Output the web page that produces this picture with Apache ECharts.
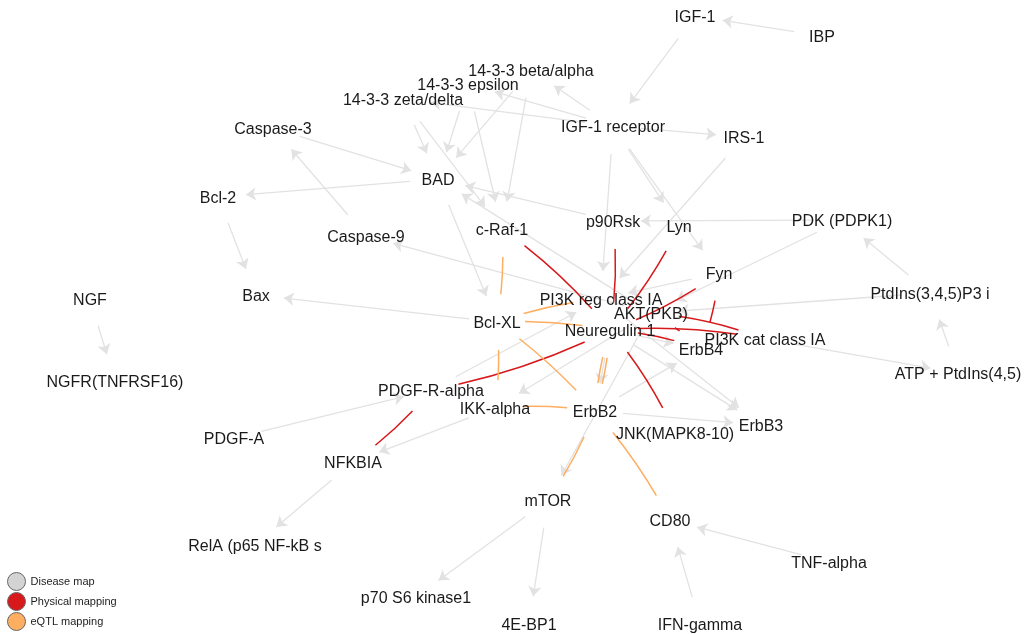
<!DOCTYPE html>
<html>
<head>
<meta charset="utf-8">
<script src="https://cdn.jsdelivr.net/npm/echarts@6/dist/echarts.min.js"></script>
<style>
  html, body { margin: 0; padding: 0; background: #fff; }
  #container { width: 1027px; height: 634px; }
</style>
</head>
<body>
<div id="container"></div>
<script>
// nodes (label centre)
var nodeNames = [
  "IGF-1", "IBP", "14-3-3 beta/alpha", "14-3-3 epsilon", "14-3-3 zeta/delta",
  "IGF-1 receptor", "IRS-1", "Caspase-3", "BAD", "Bcl-2", "c-Raf-1", "p90Rsk",
  "Lyn", "PDK (PDPK1)", "Caspase-9", "Fyn", "Bax", "NGF", "PtdIns(3,4,5)P3 i",
  "PI3K reg class IA", "Bcl-XL", "AKT(PKB)", "Neuregulin 1", "PI3K cat class IA",
  "ErbB4", "NGFR(TNFRSF16)", "ATP + PtdIns(4,5)", "PDGF-R-alpha", "IKK-alpha",
  "ErbB2", "PDGF-A", "JNK(MAPK8-10)", "ErbB3", "NFKBIA", "mTOR", "CD80",
  "RelA (p65 NF-kB s", "TNF-alpha", "p70 S6 kinase1", "4E-BP1", "IFN-gamma"
];
var nodeX = [
  695, 822, 531, 468, 403,
  613, 744, 273, 438, 218, 502, 613,
  679, 842, 366, 719, 256, 90, 930,
  601, 497, 651, 610, 765,
  701, 115, 958, 431, 495,
  595, 234, 675, 761, 353, 548, 670,
  255, 829, 416, 529, 700
];
var nodeY = [
  16, 36, 70, 84, 99,
  126, 137, 128, 179, 197, 229, 221,
  226, 220, 236, 273, 295, 299, 293,
  299, 322, 313, 330, 339,
  349, 381, 373, 390, 408,
  411, 438, 433, 425, 462, 500, 520,
  545, 562, 597, 624, 624
];

// Disease map (directed)
var diseaseEdges = [
  ["IBP", "IGF-1"], ["IGF-1", "IGF-1 receptor"], ["IGF-1 receptor", "IRS-1"],
  ["IGF-1 receptor", "14-3-3 beta/alpha"], ["IGF-1 receptor", "14-3-3 epsilon"],
  ["IGF-1 receptor", "14-3-3 zeta/delta"], ["IGF-1 receptor", "Lyn"],
  ["IGF-1 receptor", "Fyn"], ["IGF-1 receptor", "PI3K reg class IA"],
  ["IRS-1", "PI3K reg class IA"], ["PDK (PDPK1)", "p90Rsk"], ["PDK (PDPK1)", "AKT(PKB)"],
  ["Fyn", "PI3K reg class IA"], ["PtdIns(3,4,5)P3 i", "PDK (PDPK1)"],
  ["PtdIns(3,4,5)P3 i", "AKT(PKB)"], ["ATP + PtdIns(4,5)", "PtdIns(3,4,5)P3 i"],
  ["PI3K cat class IA", "ATP + PtdIns(4,5)"], ["Neuregulin 1", "ErbB4"],
  ["Neuregulin 1", "ErbB3"], ["Neuregulin 1", "ErbB2"], ["ErbB2", "ErbB3"],
  ["ErbB2", "ErbB4"], ["PI3K reg class IA", "ErbB3"], ["AKT(PKB)", "IKK-alpha"],
  ["IKK-alpha", "NFKBIA"], ["NFKBIA", "RelA (p65 NF-kB s"], ["PDGF-A", "PDGF-R-alpha"],
  ["PDGF-R-alpha", "PI3K reg class IA"], ["AKT(PKB)", "mTOR"], ["mTOR", "p70 S6 kinase1"],
  ["mTOR", "4E-BP1"], ["TNF-alpha", "CD80"], ["IFN-gamma", "CD80"], ["Bcl-XL", "Bax"],
  ["AKT(PKB)", "Caspase-9"], ["AKT(PKB)", "BAD"], ["BAD", "Bcl-XL"], ["BAD", "Bcl-2"],
  ["Caspase-9", "Caspase-3"], ["Caspase-3", "BAD"], ["Bcl-2", "Bax"],
  ["NGF", "NGFR(TNFRSF16)"], ["14-3-3 zeta/delta", "BAD"], ["14-3-3 epsilon", "BAD"],
  ["14-3-3 beta/alpha", "BAD"], ["14-3-3 zeta/delta", "c-Raf-1"],
  ["14-3-3 epsilon", "c-Raf-1"], ["14-3-3 beta/alpha", "c-Raf-1"], ["p90Rsk", "BAD"]
];

// Physical mapping
var physicalEdges = [
  ["c-Raf-1", "Neuregulin 1"], ["p90Rsk", "Neuregulin 1"], ["Lyn", "Neuregulin 1"],
  ["Fyn", "Neuregulin 1"], ["Fyn", "ErbB4"], ["Neuregulin 1", "PI3K cat class IA"],
  ["AKT(PKB)", "PI3K cat class IA"], ["AKT(PKB)", "ErbB4"], ["Neuregulin 1", "ErbB4"],
  ["Neuregulin 1", "JNK(MAPK8-10)"], ["Neuregulin 1", "PDGF-R-alpha"],
  ["PDGF-R-alpha", "NFKBIA"]
];

// eQTL mapping
var eqtlEdges = [
  ["c-Raf-1", "Bcl-XL"], ["Bcl-XL", "PI3K reg class IA"], ["Bcl-XL", "Neuregulin 1"],
  ["Neuregulin 1", "ErbB2"], ["ErbB2", "Neuregulin 1"], ["Bcl-XL", "IKK-alpha"],
  ["Bcl-XL", "ErbB2"], ["IKK-alpha", "ErbB2"], ["ErbB2", "mTOR"], ["ErbB2", "CD80"]
];

var legendNames = ["Disease map", "Physical mapping", "eQTL mapping"];
var legendColors = ["#d3d3d3", "#d7191c", "#fdae61"];

var dom = document.getElementById("container");
var myChart = echarts.init(dom, null, { renderer: "canvas" });

var nodes = nodeNames.map(function (n, i) {
  return { name: n, value: [nodeX[i], nodeY[i]] };
});

// the tiny end symbols only make ECharts pull the line ends back from the labels
var tiny = 0.01;
var links = [];
diseaseEdges.forEach(function (e) {
  links.push({
    source: e[0], target: e[1],
    symbol: ["circle", "arrow"], symbolSize: [tiny, 10],
    lineStyle: { color: "#e2e2e2", width: 1.3, opacity: 1, curveness: 0 }
  });
});
physicalEdges.forEach(function (e) {
  links.push({
    source: e[0], target: e[1],
    symbol: ["circle", "circle"], symbolSize: [tiny, tiny],
    lineStyle: { color: "#d7191c", width: 1.5, opacity: 1, curveness: 0.07 }
  });
});
eqtlEdges.forEach(function (e) {
  links.push({
    source: e[0], target: e[1],
    symbol: ["circle", "circle"], symbolSize: [tiny, tiny],
    lineStyle: { color: "#fdae61", width: 1.5, opacity: 1, curveness: 0.06 }
  });
});

var option = {
  animation: false,
  grid: { left: 0, right: 0, top: 0, bottom: 0 },
  xAxis: { type: "value", min: 0, max: 1027, show: false },
  yAxis: { type: "value", min: 0, max: 634, inverse: true, show: false },
  legend: {
    orient: "vertical",
    left: 7,
    top: 572,
    padding: 0,
    itemWidth: 18,
    itemHeight: 18,
    itemGap: 1,
    icon: "circle",
    textStyle: { fontSize: 11, color: "#222", fontFamily: "Liberation Sans, Arial, sans-serif" },
    data: legendNames.map(function (n, i) {
      return { name: n, itemStyle: { color: legendColors[i], borderColor: "#666", borderWidth: 1 } };
    })
  },
  series: [
    {
      type: "graph",
      layout: "none",
      coordinateSystem: "cartesian2d",
      categories: legendNames.map(function (n, i) {
        return { name: n, itemStyle: { color: legendColors[i] } };
      }),
      symbol: "circle",
      symbolSize: 56,
      itemStyle: { color: "rgba(255,255,255,0)" },
      label: {
        show: true,
        position: "inside",
        offset: [0, 2],
        color: "#1a1a1a",
        opacity: 1,
        fontSize: 16,
        fontFamily: "Liberation Sans, Arial, sans-serif",
        formatter: "{b}"
      },
      emphasis: { disabled: true },
      data: nodes,
      links: links
    }
  ]
};

myChart.setOption(option);
window.addEventListener("resize", myChart.resize);
</script>
</body>
</html>
